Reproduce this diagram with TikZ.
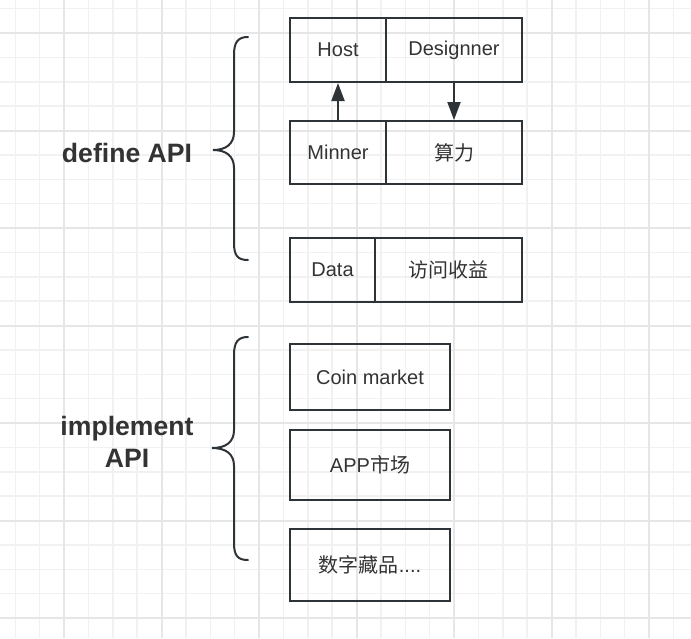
\documentclass[tikz,border=0pt]{standalone}
\usepackage{fontspec}
\setmainfont{Liberation Sans}
\newfontfamily\cjk{Noto Sans CJK SC}
\usetikzlibrary{arrows.meta}
\definecolor{gridminor}{HTML}{F1F1F1}
\definecolor{gridmajor}{HTML}{E6E6E6}
\definecolor{ink}{HTML}{2E3338}
\definecolor{txt}{HTML}{333333}
\tikzset{
  boxnode/.style={draw=ink, line width=2pt, rectangle, inner sep=0pt, text=txt,
    font=\fontsize{20}{24}\selectfont},
  arr/.style={draw=ink, line width=2pt, -{Triangle[length=18pt,width=13pt]}},
  bracepath/.style={draw=ink, line width=2pt, line cap=round},
  lbl/.style={text=txt, font=\bfseries\fontsize{26.6}{32}\selectfont, align=center},
  gminor/.style={draw=gridminor, line width=1.5pt},
  gmajor/.style={draw=gridmajor, line width=2pt},
}
\begin{document}
\begin{tikzpicture}[x=1pt,y=-1pt]
\useasboundingbox (0,0) rectangle (691,638);
\fill[white] (0,0) rectangle (691,638);
% grid
\foreach \i in {0,...,28} {\draw[gminor] ({15.25+24.375*\i},0) -- ({15.25+24.375*\i},638);}
\foreach \i in {0,...,26} {\draw[gminor] (0,{8.625+24.375*\i}) -- (691,{8.625+24.375*\i});}
\foreach \i in {0,...,6} {\draw[gmajor] ({64+97.5*\i},0) -- ({64+97.5*\i},638);}
\foreach \i in {0,...,6} {\draw[gmajor] (0,{33+97.5*\i}) -- (691,{33+97.5*\i});}
% boxes
\node[boxnode, minimum width=96pt, minimum height=64pt] (host) at (338,50) {Host};
\node[boxnode, minimum width=136pt, minimum height=64pt] (designer) at (454,50) {Designner};
\node[boxnode, minimum width=96pt, minimum height=63pt] (minner) at (338,152.5) {Minner};
\node[boxnode, minimum width=136pt, minimum height=63pt] (suanli) at (454,152.5) {\cjk 算力};
\node[boxnode, minimum width=85pt, minimum height=64pt] (data) at (332.5,270) {Data};
\node[boxnode, minimum width=147pt, minimum height=64pt] (fangwen) at (448.5,270) {\cjk 访问收益};
\node[boxnode, minimum width=160pt, minimum height=66pt] (coin) at (370,377) {Coin market};
\node[boxnode, minimum width=160pt, minimum height=70pt] (app) at (370,465) {APP{\cjk 市场}};
\node[boxnode, minimum width=160pt, minimum height=72pt] (nft) at (370,565) {{\cjk 数字藏品}....};
% arrows
\draw[arr] (minner.north) -- (host.south);
\draw[arr] (designer.south) -- (suanli.north);
% braces
\draw[bracepath] (248,37) .. controls (238,37) and (234,42) .. (234,55) -- (234,132)
  .. controls (234,144) and (226,150) .. (213,150)
  .. controls (226,150) and (234,156) .. (234,168) -- (234,243)
  .. controls (234,256) and (238,260) .. (248,260);
\draw[bracepath] (248,337) .. controls (238,337) and (234,342) .. (234,355) -- (234,430)
  .. controls (234,442) and (226,448) .. (212,448)
  .. controls (226,448) and (234,454) .. (234,466) -- (234,543)
  .. controls (234,556) and (238,560) .. (248,560);
% labels
\node[lbl] (def) at (127,153) {define API};
\node[lbl] (impl) at (127,442) {implement\\API};
\end{tikzpicture}
\end{document}
